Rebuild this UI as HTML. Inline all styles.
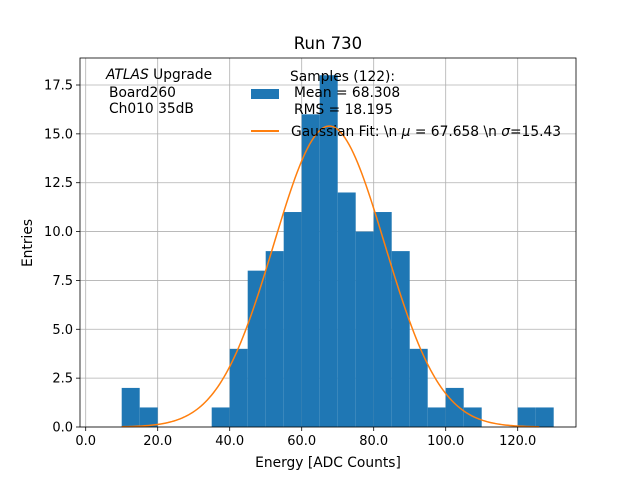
<!DOCTYPE html>
<html><head><meta charset="utf-8"><style>
body{margin:0;background:#fff}
svg text{font-family:"DejaVu Sans","Liberation Sans",sans-serif;fill:#000}
</style></head><body>
<svg id="c" width="640" height="480" xmlns="http://www.w3.org/2000/svg">
<text x="328" y="49" font-size="16.5" text-anchor="middle">Run 730</text>
<g id="grid"></g><g id="bars"></g><g id="fit"></g><g id="axes"></g>
<text x="328" y="467" font-size="13.8" text-anchor="middle">Energy [ADC Counts]</text>
<text transform="translate(32,243) rotate(-90)" font-size="13.8" text-anchor="middle">Entries</text>
<g font-size="13.8">
<text x="106" y="79"><tspan font-style="italic">ATLAS</tspan> Upgrade</text>
<text x="109" y="97">Board260</text>
<text x="109" y="113">Ch010 35dB</text>
</g>
<g font-size="13.8">
<text x="290" y="81">Samples (122):</text>
<rect x="251" y="89" width="28" height="10" fill="#1f77b4"/>
<text x="294" y="97">Mean = 68.308</text>
<text x="294" y="114">RMS = 18.195</text>
<line x1="251" y1="131" x2="279" y2="131" stroke="#ff7f0e" stroke-width="2"/>
<text x="291" y="136">Gaussian Fit: \n <tspan font-style="italic">μ</tspan> = 67.658 \n <tspan font-style="italic">σ</tspan>=15.43</text>
</g>
</svg>
<script>
const binEdgesLow=[10,15,35,40,45,50,55,60,65,70,75,80,85,90,95,100,105,120,125];
const counts=[2,1,1,4,8,9,11,16,18,12,10,11,9,4,1,2,1,1,1];
const binWidth=5;
const fitMu=67.658, fitSigma=15.43, fitAmp=15.4, fitMin=10, fitMax=126;
const xTicks=[0,20,40,60,80,100,120];
const xTickLabels=["0.0","20.0","40.0","60.0","80.0","100.0","120.0"];
const yTicks=[0,2.5,5,7.5,10,12.5,15,17.5];
const yTickLabels=["0.0","2.5","5.0","7.5","10.0","12.5","15.0","17.5"];
const L=80,R=576,T=58,B=427;
const X=v=>85.7+v*3.6;
const Y=v=>427-v*(427-85)/17.5;
const NS="http://www.w3.org/2000/svg";
function mk(t,a,p){const e=document.createElementNS(NS,t);for(const k in a)e.setAttribute(k,a[k]);document.getElementById(p).appendChild(e);return e;}
xTicks.forEach((t,i)=>{
 const g=mk('line',{x1:X(t),x2:X(t),y1:T,y2:B,stroke:'#b0b0b0','stroke-width':0.8},'grid');
 
 
 const k=mk('line',{x1:X(t),x2:X(t),y1:B,y2:B+4,stroke:'#000','stroke-width':0.8},'axes');
 
 
 const l=mk('text',{x:X(t),y:B+18,'font-size':13,'text-anchor':'middle'},'axes');l.textContent=xTickLabels[i];
 
 
});
yTicks.forEach((t,i)=>{
 const g=mk('line',{x1:L,x2:R,y1:Y(t),y2:Y(t),stroke:'#b0b0b0','stroke-width':0.8},'grid');
 
 
 const k=mk('line',{x1:L-4,x2:L,y1:Y(t),y2:Y(t),stroke:'#000','stroke-width':0.8},'axes');
 
 
 const l=mk('text',{x:L-7,y:Y(t)+4.5,'font-size':13,'text-anchor':'end'},'axes');l.textContent=yTickLabels[i];
 
 
});
binEdgesLow.forEach((e,i)=>{
 const r=mk('rect',{x:X(e),y:Y(counts[i]),width:X(e+binWidth)-X(e),height:Y(0)-Y(counts[i]),fill:'#1f77b4'},'bars');
 
 
});
let d='';
for(let i=0;i<=200;i++){const v=fitMin+(fitMax-fitMin)*i/200;const y=fitAmp*Math.exp(-0.5*((v-fitMu)/fitSigma)**2);d+=(i?'L':'M')+X(v).toFixed(2)+' '+Y(y).toFixed(2);}
const p=mk('path',{d:d,fill:'none',stroke:'#ff7f0e','stroke-width':1.5},'fit');


const f=mk('rect',{x:L,y:T,width:R-L,height:B-T,fill:'none',stroke:'#000','stroke-width':0.8},'axes');


</script>
</body></html>
